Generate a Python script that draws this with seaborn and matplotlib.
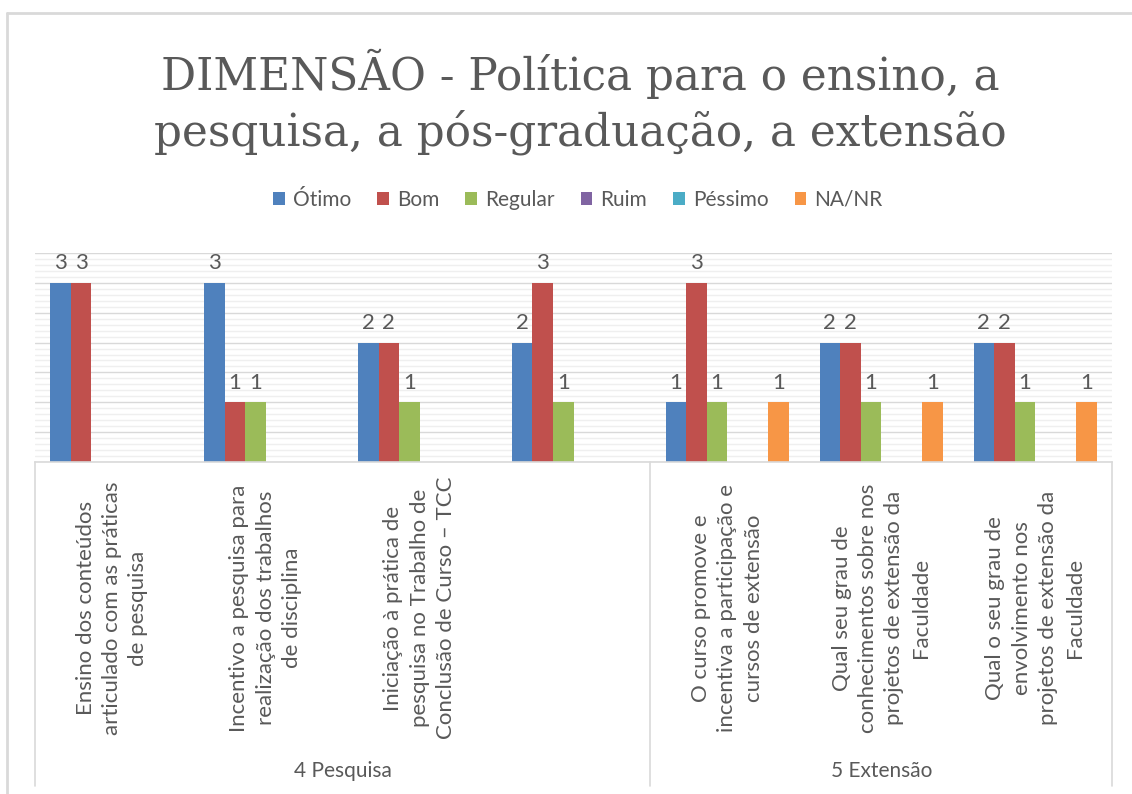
import matplotlib
matplotlib.use("Agg")
import matplotlib.pyplot as plt
import seaborn as sns
import pandas as pd
import numpy as np
from matplotlib.lines import Line2D
from matplotlib.patches import Patch
import matplotlib.transforms as mtransforms

categories = [
    "Ensino dos conteúdos\narticulado com as práticas\nde pesquisa",
    "Incentivo a pesquisa para\nrealização dos trabalhos\nde disciplina",
    "Iniciação à prática de\npesquisa no Trabalho de\nConclusão de Curso – TCC",
    "",
    "O curso promove e\nincentiva a participação e\ncursos de extensão",
    "Qual seu grau de\nconhecimentos sobre nos\nprojetos de extensão da\nFaculdade",
    "Qual o seu grau de\nenvolvimento nos\nprojetos de extensão da\nFaculdade",
]
groups = ["4 Pesquisa", "5 Extensão"]
group_sizes = [4, 3]
series = ["Ótimo", "Bom", "Regular", "Ruim", "Péssimo", "NA/NR"]
otimo = [3, 3, 2, 2, 1, 2, 2]
bom = [3, 1, 2, 3, 3, 2, 2]
regular = [0, 1, 1, 1, 1, 1, 1]
ruim = [0, 0, 0, 0, 0, 0, 0]
pessimo = [0, 0, 0, 0, 0, 0, 0]
na_nr = [0, 0, 0, 0, 1, 1, 1]
title = "DIMENSÃO - Política para o ensino, a\npesquisa, a pós-graduação, a extensão"
colors = ["#4F81BD", "#C0504D", "#9BBB59", "#8064A2", "#4BACC6", "#F79646"]

values = [otimo, bom, regular, ruim, pessimo, na_nr]
rows = []
for s, vals in zip(series, values):
    for c, v in zip(categories, vals):
        rows.append({"cat": c, "serie": s, "val": v})
df = pd.DataFrame(rows)

sns.set_style("white")
plt.rcParams['font.family'] = ['Lato', 'DejaVu Sans']
txt = "#595959"

fig = plt.figure(figsize=(11.32, 7.94), dpi=100)
ax = fig.add_axes([35/1132, 1-462/794, (1112-35)/1132, (462-253)/794])

sns.barplot(data=df, x="cat", y="val", hue="serie", order=categories,
            hue_order=series, palette=colors, width=0.8, saturation=1,
            ax=ax, legend=False, linewidth=0, errorbar=None)

ax.set_xlim(-0.5, len(categories) - 0.5)
ax.set_ylim(0, 3.5)
ax.set_yticks(np.arange(0, 3.51, 0.5))
ax.set_yticks(np.arange(0, 3.51, 0.1), minor=True)
ax.grid(axis="y", which="minor", color="#efefef", linewidth=1)
ax.grid(axis="y", which="major", color="#d9d9d9", linewidth=1)
ax.set_axisbelow(True)
ax.tick_params(left=False, bottom=False, labelleft=False, labelbottom=False, which="both")
ax.set_xlabel("")
ax.set_ylabel("")
for sp in ["top", "right", "left"]:
    ax.spines[sp].set_visible(False)
ax.spines["bottom"].set_color("#d9d9d9")
ax.spines["bottom"].set_linewidth(1.2)

for cont, vals in zip(ax.containers, values):
    labels = [str(v) if v else "" for v in vals]
    ax.bar_label(cont, labels=labels, padding=7, fontsize=16, color=txt)

trans = mtransforms.blended_transform_factory(ax.transData, ax.transAxes)
axh = 462 - 253
for i, c in enumerate(categories):
    ax.text(i, -(608 - 462) / axh, c, rotation=90, ha="center", va="center",
            multialignment="center", fontsize=16, color=txt, linespacing=1.4,
            transform=trans)

bounds = [-0.5]
for g in group_sizes:
    bounds.append(bounds[-1] + g)
for b in bounds:
    ax.add_line(Line2D([b, b], [0, -(786 - 462) / axh], transform=trans,
                       color="#d9d9d9", linewidth=1.2, clip_on=False))
for gname, a, b in zip(groups, bounds[:-1], bounds[1:]):
    ax.text((a + b) / 2, -(771 - 462) / axh, gname, ha="center", va="center",
            fontsize=15, color=txt, transform=trans)

handles = [Patch(facecolor=c, edgecolor="none") for c in colors]
fig.legend(handles, series, loc="center", bbox_to_anchor=(578/1132, 1-200/794),
           ncol=6, frameon=False, fontsize=15, handlelength=0.55, handleheight=0.55,
           handletextpad=0.4, columnspacing=1.25, labelcolor=txt)

fig.text(580/1132, 1-102/794, title, ha="center", va="center",
         fontsize=31.5, color=txt, family=["DejaVu Serif"], linespacing=1.28)

fig.add_artist(Line2D([7/1132, 7/1132], [0, 1-13/794], transform=fig.transFigure,
                      color="#d9d9d9", linewidth=2))
fig.add_artist(Line2D([7/1132, 1], [1-13/794, 1-13/794], transform=fig.transFigure,
                      color="#d9d9d9", linewidth=2))

fig.savefig("out.png", dpi=100)
